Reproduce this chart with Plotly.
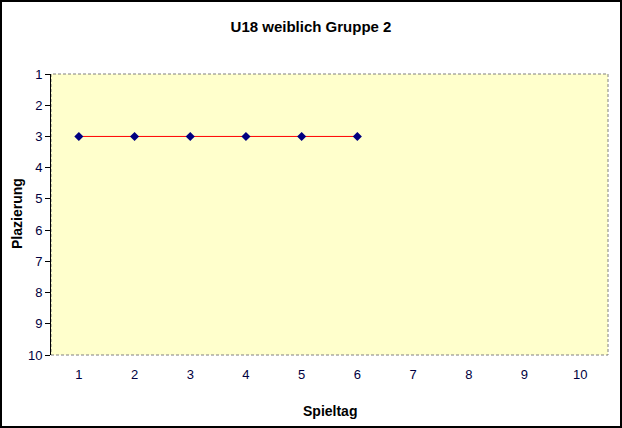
import plotly.graph_objects as go

spieltag = [1, 2, 3, 4, 5, 6]
platz = [3, 3, 3, 3, 3, 3]
x_ticks = [1, 2, 3, 4, 5, 6, 7, 8, 9, 10]
y_ticks = [1, 2, 3, 4, 5, 6, 7, 8, 9, 10]

W, H = 622, 428
L, R, T, B = 51, 14, 74, 73
pw, ph = W - L - R, H - T - B


def px_x(px):
    return (px - L) / pw


def px_y(py):
    return (H - B - py) / ph


fig = go.Figure()
fig.add_trace(go.Scatter(
    x=spieltag, y=platz, mode="lines+markers",
    line=dict(color="#FF0000", width=1),
    marker=dict(symbol="diamond", size=7, color="#000080"),
    showlegend=False, hoverinfo="skip"))

font_family = "Arial, Liberation Sans, sans-serif"
fig.update_layout(
    width=W, height=H,
    margin=dict(l=L, r=R, t=T, b=B, autoexpand=False),
    paper_bgcolor="white", plot_bgcolor="#FFFFCC",
    font=dict(family=font_family, size=12, color="#000000"),
    title=dict(text="<b>U18 weiblich Gruppe 2</b>", x=0.5, xanchor="center",
               y=1 - 27 / H, yanchor="middle",
               font=dict(size=15, color="black", family=font_family)),
    xaxis=dict(range=[0.5, 10.5], tickvals=x_ticks, ticktext=[str(v) for v in x_ticks],
               showgrid=False, zeroline=False, showline=False, automargin=False,
               ticks="outside", ticklen=7, tickcolor="rgba(0,0,0,0)",
               tickfont=dict(size=13, color="#000040")),
    yaxis=dict(range=[10, 1], tickvals=y_ticks, ticktext=[str(v) for v in y_ticks],
               showgrid=False, zeroline=False, showline=True, linecolor="black",
               linewidth=1, ticks="outside", ticklen=5, tickcolor="black",
               automargin=False,
               tickfont=dict(size=13, color="#000040")),
)

fig.add_annotation(text="<b>Spieltag</b>", xref="paper", yref="paper",
                   x=px_x(330), y=px_y(411), xanchor="center", yanchor="middle",
                   showarrow=False, font=dict(size=14, color="black"))
fig.add_annotation(text="<b>Plazierung</b>", xref="paper", yref="paper",
                   x=px_x(17), y=px_y(214), xanchor="center", yanchor="middle",
                   textangle=-90, showarrow=False, font=dict(size=14, color="black"))

# dashed plot-area border
fig.add_shape(type="rect", xref="x domain", yref="y domain", x0=0, x1=1, y0=0, y1=1,
              line=dict(color="#808080", width=1, dash="3px,2px"), layer="below")
# outer chart border
fig.add_shape(type="rect", xref="paper", yref="paper",
              x0=px_x(1), x1=px_x(W - 1),
              y0=px_y(H - 1), y1=px_y(1),
              line=dict(color="black", width=2))

fig.write_html("out.html", config={"displayModeBar": False},
               post_script="document.body.style.margin='0';document.body.style.overflow='hidden';")
